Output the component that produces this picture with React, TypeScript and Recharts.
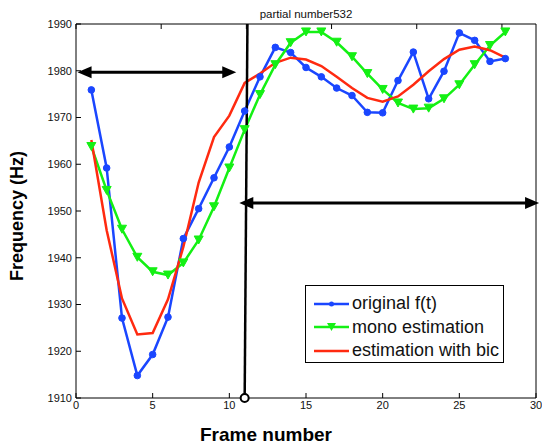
import React from 'react';
import {
  ComposedChart,
  Line,
  XAxis,
  YAxis,
  Legend,
  Label,
  ReferenceLine,
  ReferenceDot,
} from 'recharts';

const frames = [1, 2, 3, 4, 5, 6, 7, 8, 9, 10, 11, 12, 13, 14, 15, 16, 17, 18, 19, 20, 21, 22, 23, 24, 25, 26, 27, 28];

const original = [
  1975.9, 1959.2, 1927.1, 1914.8, 1919.3, 1927.3, 1944.1, 1950.5, 1957.1, 1963.7,
  1971.4, 1978.7, 1985.0, 1983.9, 1980.7, 1978.7, 1976.3, 1974.7, 1971.1, 1971.0,
  1977.9, 1984.0, 1974.0, 1979.9, 1988.1, 1986.5, 1982.0, 1982.6,
];

const mono = [
  1963.8, 1954.4, 1946.1, 1940.1, 1937.0, 1936.3, 1938.9, 1943.8, 1950.9, 1959.2,
  1967.4, 1974.9, 1981.3, 1986.0, 1988.3, 1988.3, 1986.1, 1983.0, 1979.4, 1976.0,
  1973.1, 1971.8, 1972.0, 1974.0, 1977.0, 1981.3, 1985.4, 1988.3,
];

const bic = [
  1965.2, 1945.9, 1931.3, 1923.6, 1923.9, 1931.1, 1942.3, 1956.1, 1965.8, 1970.4,
  1977.4, 1979.4, 1981.7, 1982.8, 1982.4, 1981.0, 1978.7, 1976.3, 1974.2, 1973.4,
  1974.5, 1977.0, 1979.9, 1982.5, 1984.5, 1985.2, 1984.4, 1982.8,
];

const xTicks = [0, 5, 10, 15, 20, 25, 30];
const yTicks = [1910, 1920, 1930, 1940, 1950, 1960, 1970, 1980, 1990];

const data = frames.map((f, i) => ({ frame: f, original: original[i], mono: mono[i], bic: bic[i] }));

const BLUE = '#1a46ff';
const GREEN = '#14f014';
const RED = '#ff2a10';
const FONT = '"Liberation Sans", Arial, Helvetica, sans-serif';

const tickStyle = { fontSize: 11, fill: '#111', fontFamily: FONT };

const triangleDot = (props: any) => {
  const { cx, cy, index } = props;
  if (cx == null || cy == null) return <g key={`t${index}`} />;
  return (
    <polygon
      key={`t${index}`}
      points={`${cx - 4.5},${cy - 4} ${cx + 4.5},${cy - 4} ${cx},${cy + 4}`}
      fill={GREEN}
      stroke={GREEN}
      strokeWidth={1}
    />
  );
};

const doubleArrow = (props: any) => {
  const { x1, y1, x2, y2 } = props;
  const len = 14;
  const hw = 6;
  return (
    <g>
      <line x1={x1 + len - 2} y1={y1} x2={x2 - len + 2} y2={y2} stroke="#000" strokeWidth={3} />
      <polygon points={`${x1},${y1} ${x1 + len},${y1 - hw} ${x1 + len},${y1 + hw}`} fill="#000" />
      <polygon points={`${x2},${y2} ${x2 - len},${y2 - hw} ${x2 - len},${y2 + hw}`} fill="#000" />
    </g>
  );
};

const legendItems = [
  { label: 'original f(t)', color: BLUE, marker: 'circle' },
  { label: 'mono estimation', color: GREEN, marker: 'triangle' },
  { label: 'estimation with bic', color: RED, marker: 'none' },
];

const renderLegend = () => (
  <div
    style={{
      border: '1px solid #000',
      background: '#fff',
      width: 197,
      height: 70,
      boxSizing: 'content-box',
      fontFamily: FONT,
      fontSize: 18,
      color: '#111',
      paddingTop: 6,
    }}
  >
    {legendItems.map((it) => (
      <div key={it.label} style={{ display: 'flex', alignItems: 'center', height: 23.5, whiteSpace: 'nowrap' }}>
        <svg width={46} height={14} style={{ marginLeft: 7, marginRight: 0, flex: 'none' }}>
          <line x1={1} y1={7} x2={36} y2={7} stroke={it.color} strokeWidth={2.5} />
          {it.marker === 'circle' && <circle cx={18.5} cy={7} r={2.5} fill={it.color} />}
          {it.marker === 'triangle' && (
            <polygon points={`${14},${3} ${23},${3} ${18.5},${11}`} fill={it.color} />
          )}
        </svg>
        <span style={{ marginLeft: -7 }}>{it.label}</span>
      </div>
    ))}
  </div>
);

export default function App() {
  return (
    <div style={{ position: 'absolute', left: 0, top: 0, width: 542, height: 446, background: '#fff' }}>
      <ComposedChart width={542} height={446} data={data} margin={{ top: 4, right: 0, bottom: 18, left: 0 }}>
        <XAxis
          dataKey="frame"
          type="number"
          domain={[0, 30]}
          ticks={xTicks}
          allowDataOverflow
          height={30}
          tickSize={-5}
          tickMargin={8}
          stroke="#000"
          tick={tickStyle}
        >
          <Label
            value="Frame number"
            position="center"
            dx={-40}
            dy={21}
            style={{ fontSize: 19, fontWeight: 'bold', fill: '#000', fontFamily: FONT }}
          />
        </XAxis>
        <XAxis
          xAxisId="top"
          orientation="top"
          type="number"
          domain={[0, 30]}
          ticks={xTicks}
          height={20}
          tickSize={-5}
          tickFormatter={() => ''}
          stroke="#000"
        >
          <Label
            value="partial number532"
            position="center"
            dy={0}
            style={{ fontSize: 11.5, fill: '#111', fontFamily: FONT }}
          />
        </XAxis>
        <YAxis
          type="number"
          domain={[1910, 1990]}
          ticks={yTicks}
          allowDataOverflow
          width={76}
          tickSize={-5}
          tickMargin={9}
          stroke="#000"
          tick={tickStyle}
        >
          <Label
            value="Frequency (Hz)"
            position="center"
            angle={-90}
            dx={-21}
            dy={5}
            style={{ fontSize: 18, fontWeight: 'bold', fill: '#000', fontFamily: FONT, textAnchor: 'middle' }}
          />
        </YAxis>
        <YAxis
          yAxisId="right"
          orientation="right"
          type="number"
          domain={[1910, 1990]}
          ticks={yTicks}
          width={6}
          tickSize={-5}
          tickFormatter={() => ''}
          stroke="#000"
        />
        <Legend
          layout="vertical"
          align="center"
          verticalAlign="middle"
          content={renderLegend}
          wrapperStyle={{ left: 305, top: 285, width: 199, height: 78 }}
        />
        <Line
          type="linear"
          dataKey="original"
          stroke={BLUE}
          strokeWidth={2.5}
          dot={{ r: 3.3, fill: BLUE, stroke: BLUE, strokeWidth: 1 }}
          isAnimationActive={false}
        />
        <Line
          type="linear"
          dataKey="mono"
          stroke={GREEN}
          strokeWidth={2.5}
          dot={triangleDot}
          isAnimationActive={false}
        />
        <Line
          type="linear"
          dataKey="bic"
          stroke={RED}
          strokeWidth={2.5}
          dot={false}
          isAnimationActive={false}
        />
        <ReferenceLine
          segment={[{ x: 11, y: 1910 }, { x: 11.18, y: 1990 }]}
          stroke="#000"
          strokeWidth={2.5}
          ifOverflow="visible"
        />
        <ReferenceDot x={11} y={1910} r={4} fill="#fff" stroke="#000" strokeWidth={2} ifOverflow="visible" />
        <ReferenceLine
          segment={[{ x: 0.1, y: 1979.7 }, { x: 10.45, y: 1979.7 }]}
          ifOverflow="visible"
          shape={doubleArrow}
        />
        <ReferenceLine
          segment={[{ x: 10.65, y: 1951.7 }, { x: 30.2, y: 1951.7 }]}
          ifOverflow="visible"
          shape={doubleArrow}
        />
      </ComposedChart>
    </div>
  );
}
